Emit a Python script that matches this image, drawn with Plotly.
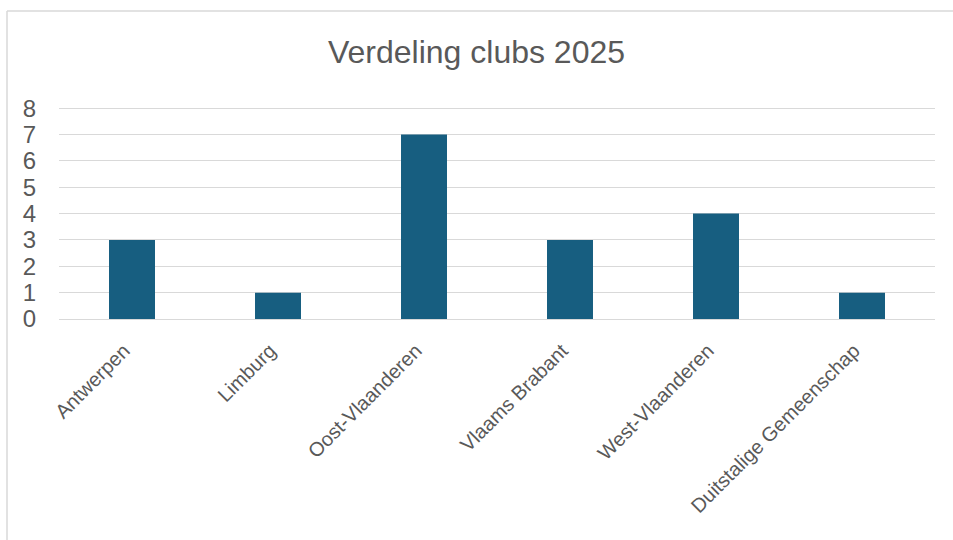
import plotly.graph_objects as go

categories = ["Antwerpen", "Limburg", "Oost-Vlaanderen", "Vlaams Brabant",
              "West-Vlaanderen", "Duitstalige Gemeenschap"]
values = [3, 1, 7, 3, 4, 1]
y_ticks = [0, 1, 2, 3, 4, 5, 6, 7, 8]
title_text = "Verdeling clubs 2025"

FONT = "Liberation Sans Narrow, Arial Narrow, Liberation Sans, Arial, sans-serif"
GRAY = "#595959"
GRID = "#d9d9d9"

fig = go.Figure(go.Bar(x=categories, y=values, marker=dict(color="#175e80", line=dict(width=0)),
                       width=0.315, hoverinfo="skip"))

fig.update_layout(
    width=953, height=540,
    paper_bgcolor="white", plot_bgcolor="white",
    margin=dict(l=59, r=18, t=106, b=221),
    showlegend=False,
    title=dict(text=title_text, x=0.5, xanchor="center", y=1 - 52 / 540, yanchor="middle",
               font=dict(family=FONT, size=32, color=GRAY)),
    font=dict(family=FONT, color=GRAY),
)
fig.update_yaxes(range=[0, 8.08], tickvals=y_ticks, showgrid=True, gridcolor=GRID, gridwidth=1.3,
                 zeroline=False, showline=False, tickfont=dict(family=FONT, size=24, color=GRAY),
                 ticklabelstandoff=22, fixedrange=True)
fig.update_xaxes(tickangle=-45, showline=True, linecolor=GRID, linewidth=1.3,
                 tickfont=dict(family=FONT, size=20, color=GRAY), ticklabelstandoff=11,
                 ticklabelshift=-8, fixedrange=True)

# outer chart border (left and top edges visible)
ph = 540 - 106 - 221
x0 = (7 - 59) / 876
ytop = (319 - 11) / ph
fig.add_shape(type="line", xref="paper", yref="paper", x0=x0, x1=x0, y0=-1.3, y1=ytop,
              line=dict(color=GRID, width=1.5))
fig.add_shape(type="line", xref="paper", yref="paper", x0=x0, x1=1.1, y0=ytop, y1=ytop,
              line=dict(color=GRID, width=1.5))

fig.write_html("out.html", config={"displayModeBar": False},
               post_script="document.body.style.margin='0';")
